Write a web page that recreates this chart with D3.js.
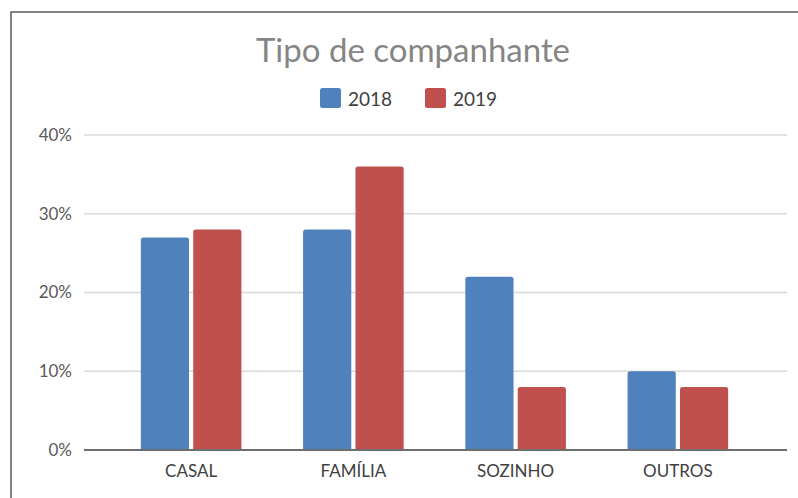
<!DOCTYPE html>
<html>
<head>
<meta charset="utf-8">
<script src="https://cdn.jsdelivr.net/npm/d3@7"></script>
<style>
  body { margin: 0; background: #fff; }
  svg { display: block; }
</style>
</head>
<body>
<div id="chart"></div>
<script>
const categories = ["CASAL", "FAMÍLIA", "SOZINHO", "OUTROS"];
const years = ["2018", "2019"];
const values2018 = [27, 28, 22, 10];
const values2019 = [28, 36, 8, 8];
const yTicks = [0, 10, 20, 30, 40];
const colors = ["#4f81bd", "#c0504d"];

const W = 798, H = 498;
const font = "Lato, 'Open Sans', sans-serif";

const svg = d3.select("#chart").append("svg")
    .attr("width", W).attr("height", H);

// frame (only top and left edges visible)
svg.append("path")
    .attr("d", `M11,${H} L11,12 L${W},12`)
    .attr("fill", "none")
    .attr("stroke", "#5a5a5a")
    .attr("stroke-width", 1.5);

// Scales
const y = d3.scaleLinear().domain([0, 40]).range([450, 135]);
const x0 = d3.scaleBand().domain(categories).range([110, 759])
    .paddingInner(0.38).paddingOuter(0.19);
const x1 = d3.scaleBand().domain(years).range([0, x0.bandwidth()]).paddingInner(0.08);

const gridLeft = 84, gridRight = 787;

// Gridlines
svg.append("g").selectAll("line")
    .data(yTicks.filter(d => d > 0))
    .join("line")
    .attr("x1", gridLeft).attr("x2", gridRight)
    .attr("y1", d => y(d)).attr("y2", d => y(d))
    .attr("stroke", "#d9d9d9")
    .attr("stroke-width", 1.5);

// Y tick labels
svg.append("g").selectAll("text")
    .data(yTicks)
    .join("text")
    .attr("x", 72)
    .attr("y", d => y(d))
    .attr("dy", "0.35em")
    .attr("text-anchor", "end")
    .attr("font-family", font)
    .attr("font-size", 17)
    .attr("fill", "#595959")
    .text(d => d + "%");

// Bars with slightly rounded tops
const rows = categories.map((c, i) => ({cat: c, vals: [values2018[i], values2019[i]]}));
function barPath(x, yTop, w, yBase, r) {
    return `M${x},${yBase} L${x},${yTop + r} Q${x},${yTop} ${x + r},${yTop}
            L${x + w - r},${yTop} Q${x + w},${yTop} ${x + w},${yTop + r} L${x + w},${yBase} Z`;
}
svg.append("g").selectAll("g")
    .data(rows)
    .join("g")
    .attr("transform", d => `translate(${x0(d.cat)},0)`)
    .selectAll("path")
    .data(d => d.vals.map((v, j) => ({year: years[j], v: v, j: j})))
    .join("path")
    .attr("d", d => barPath(x1(d.year), y(d.v), x1.bandwidth(), y(0), 2.5))
    .attr("fill", d => colors[d.j]);

// Baseline
svg.append("line")
    .attr("x1", gridLeft).attr("x2", gridRight)
    .attr("y1", y(0)).attr("y2", y(0))
    .attr("stroke", "#6e6e6e")
    .attr("stroke-width", 2);

// Category labels
svg.append("g").selectAll("text")
    .data(categories)
    .join("text")
    .attr("x", d => x0(d) + x0.bandwidth() / 2)
    .attr("y", 477)
    .attr("text-anchor", "middle")
    .attr("font-family", font)
    .attr("font-size", 17)
    .attr("fill", "#404040")
    .text(d => d);

// Title
svg.append("text")
    .attr("x", 413).attr("y", 62)
    .attr("text-anchor", "middle")
    .attr("font-family", font)
    .attr("font-size", 33)
    .attr("fill", "#858585")
    .text("Tipo de companhante");

// Legend
const legendX = [320, 425];
const legend = svg.append("g").selectAll("g")
    .data(years)
    .join("g")
    .attr("transform", (d, i) => `translate(${legendX[i]},88)`);
legend.append("rect")
    .attr("width", 21).attr("height", 20)
    .attr("rx", 2.5)
    .attr("fill", (d, i) => colors[i]);
legend.append("text")
    .attr("x", 28).attr("y", 17.5)
    .attr("font-family", font)
    .attr("font-size", 19)
    .attr("fill", "#404040")
    .text(d => d);
</script>
</body>
</html>
